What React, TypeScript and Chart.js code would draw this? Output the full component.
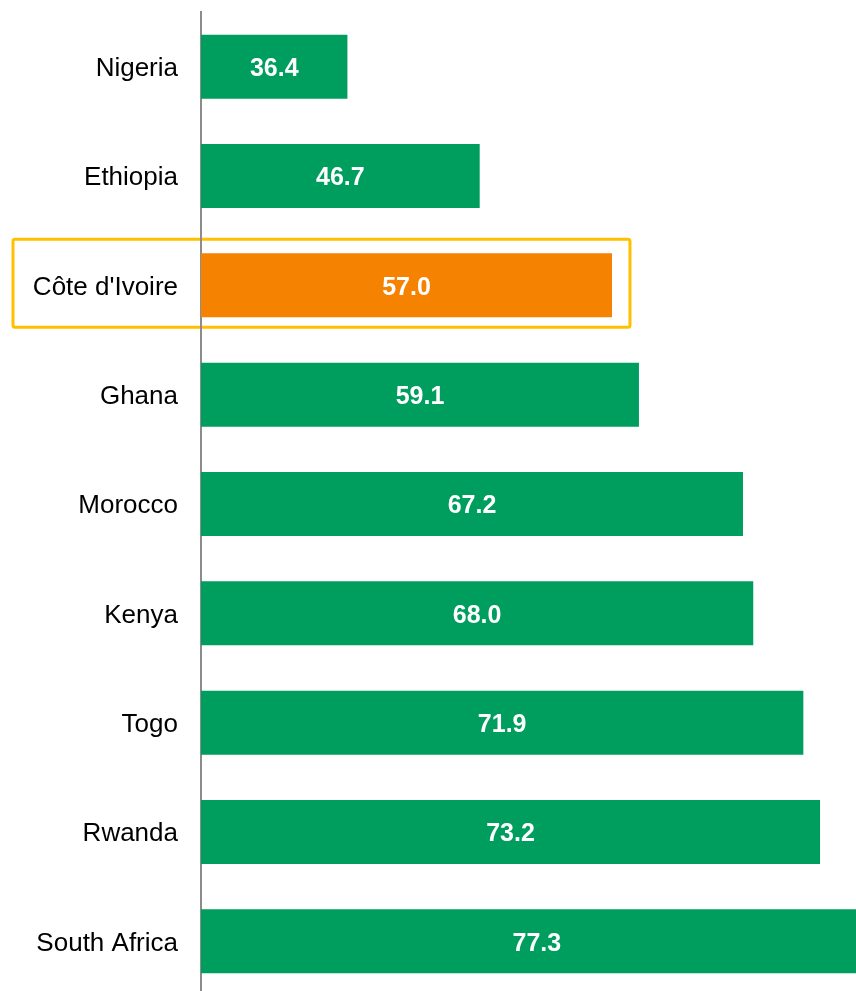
import React, { useEffect, useRef } from "react";
import { Chart, registerables } from "chart.js";

Chart.register(...registerables);

const countries = ["Nigeria", "Ethiopia", "Côte d'Ivoire", "Ghana", "Morocco", "Kenya", "Togo", "Rwanda", "South Africa"];
const values = [36.4, 46.7, 57.0, 59.1, 67.2, 68.0, 71.9, 73.2, 77.3];
const highlighted = "Côte d'Ivoire";

const GREEN = "#009E5E";
const ORANGE = "#F58200";
const GOLD = "#FFC000";

export default function App() {
  const ref = useRef<HTMLCanvasElement>(null);

  useEffect(() => {
    const canvas = ref.current!;
    const hiIndex = countries.indexOf(highlighted);

    const boxPlugin = {
      id: "highlightBox",
      beforeDraw(chart: any) {
        const { ctx, scales } = chart;
        const yc = scales.y.getPixelForValue(hiIndex);
        const xr = scales.x.getPixelForValue(values[hiIndex]) + 18;
        ctx.save();
        ctx.strokeStyle = GOLD;
        ctx.lineWidth = 3;
        ctx.beginPath();
        (ctx as any).roundRect(13, yc - 46, xr - 13, 88, 2);
        ctx.stroke();
        ctx.restore();
      },
    };

    const labelPlugin = {
      id: "barLabels",
      afterDatasetsDraw(chart: any) {
        const { ctx, chartArea } = chart;
        const meta = chart.getDatasetMeta(0);
        ctx.save();
        ctx.fillStyle = "#ffffff";
        ctx.font = "bold 25px 'Liberation Sans', Arial, sans-serif";
        ctx.textAlign = "center";
        ctx.textBaseline = "middle";
        meta.data.forEach((el: any, i: number) => {
          const cx = (el.x + chartArea.left) / 2;
          ctx.fillText(values[i].toFixed(1), cx, el.y + 2.5);
        });
        ctx.restore();
      },
    };

    const chart = new Chart(canvas, {
      type: "bar",
      data: {
        labels: countries,
        datasets: [
          {
            data: values,
            backgroundColor: countries.map((c) => (c === highlighted ? ORANGE : GREEN)),
            borderWidth: 0,
            categoryPercentage: 1,
            barPercentage: 0.586,
          },
        ],
      },
      options: {
        indexAxis: "y",
        animation: false,
        responsive: false,
        maintainAspectRatio: false,
        layout: { padding: { top: 12, left: 0, right: 0, bottom: 0 } },
        plugins: {
          legend: { display: false },
          tooltip: { enabled: false },
          title: { display: false },
        },
        scales: {
          x: {
            display: false,
            min: 25,
            max: 76,
          },
          y: {
            grid: { display: false, drawTicks: false },
            border: { display: true, color: "#8c8c8c", width: 2 },
            ticks: {
              color: "#000000",
              padding: 23,
              labelOffset: 2,
              font: { family: "'Liberation Sans', Arial, sans-serif", size: 26 },
            },
            afterFit(scale: any) {
              scale.width = 201;
              scale.paddingTop = 0;
              scale.paddingBottom = 0;
            },
          },
        },
      },
      plugins: [boxPlugin, labelPlugin],
    } as any);

    return () => chart.destroy();
  }, []);

  return (
    <div style={{ position: "absolute", left: 0, top: 0, width: 856, height: 991, overflow: "hidden", background: "#fff" }}>
      <canvas ref={ref} width={856} height={996} style={{ width: 856, height: 996, display: "block" }} />
    </div>
  );
}
